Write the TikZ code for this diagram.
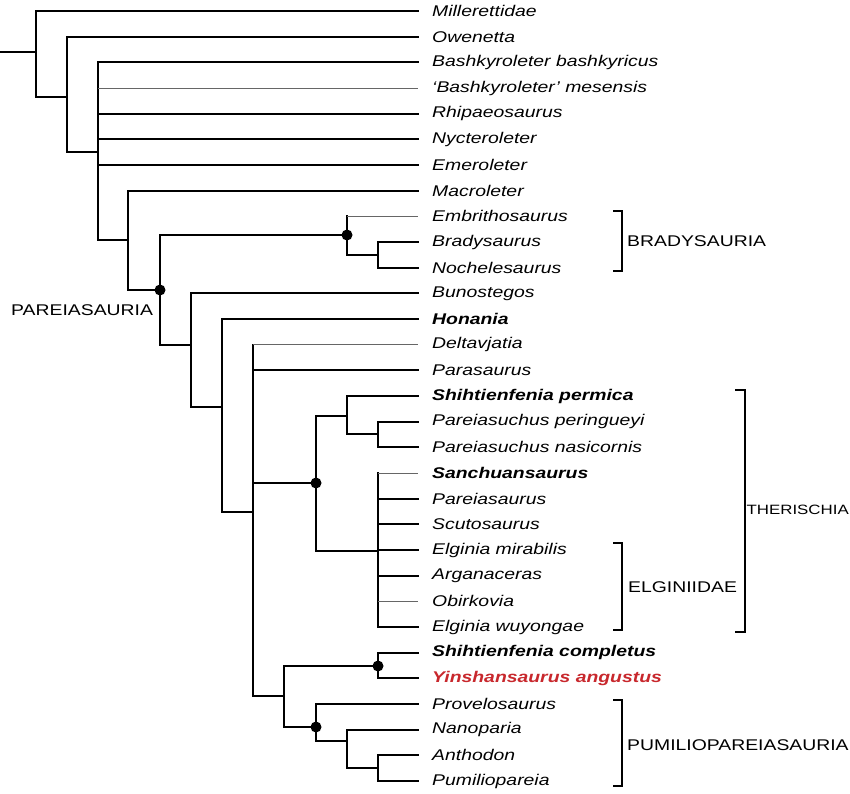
\documentclass[tikz,border=0pt]{standalone}
\usepackage{fontspec}
\setmainfont{Liberation Sans}[FakeStretch=1.25]
\tikzset{
  branch/.style={line width=2.1pt, line cap=rect},
  weak/.style={line width=0.9pt, draw=black!60},
  taxon/.style={anchor=west, inner sep=0pt, font=\fontsize{15.5}{17}\selectfont\itshape},
  focal/.style={taxon, font=\fontsize{15.5}{17}\selectfont\bfseries\itshape},
  clade/.style={anchor=west, inner sep=0pt, font=\fontsize{15.5}{17}\selectfont},
  dot/.style={circle, fill=black, inner sep=0pt, minimum size=11pt},
  brack/.style={line width=1.5pt}
}
\begin{document}
\begin{tikzpicture}[x=1pt, y=-1pt]
  \useasboundingbox (0,0) rectangle (850,793);
  \def\row#1{11+(#1-1)*25.67}

  % Taxon labels
  \foreach \name/\i/\st in {Millerettidae/1/taxon, Owenetta/2/taxon,
      Bashkyroleter bashkyricus/3/taxon, `Bashkyroleter' mesensis/4/taxon,
      Rhipaeosaurus/5/taxon, Nycteroleter/6/taxon, Emeroleter/7/taxon,
      Macroleter/8/taxon, Embrithosaurus/9/taxon, Bradysaurus/10/taxon,
      Nochelesaurus/11/taxon, Bunostegos/12/taxon, Honania/13/focal,
      Deltavjatia/14/taxon, Parasaurus/15/taxon,
      Shihtienfenia permica/16/focal, Pareiasuchus peringueyi/17/taxon,
      Pareiasuchus nasicornis/18/taxon, Sanchuansaurus/19/focal,
      Pareiasaurus/20/taxon, Scutosaurus/21/taxon,
      Elginia mirabilis/22/taxon, Arganaceras/23/taxon, Obirkovia/24/taxon,
      Elginia wuyongae/25/taxon, Shihtienfenia completus/26/focal,
      Provelosaurus/28/taxon, Nanoparia/29/taxon, Anthodon/30/taxon,
      Pumiliopareia/31/taxon}
    \node[\st] (t\i) at (432,{\row{\i}}) {\name};
  \node[focal, text={rgb,255:red,200;green,40;blue,45}] (t27) at (432,{\row{27}}) {Yinshansaurus angustus};

  % Tip ends
  \foreach \i in {1,...,31}
    \coordinate (e\i) at ([xshift=-14pt]t\i.west);

  % Internal nodes
  \coordinate (root) at (0,52);
  \coordinate (A) at (36,52);
  \coordinate (B) at (67,97);
  \coordinate (C) at (98,152);
  \coordinate (D) at (128,240);
  \coordinate (E) at (160,290);
  \coordinate (F) at (347,235);
  \coordinate (G) at (378,255);
  \coordinate (H) at (191,345);
  \coordinate (I) at (222,407);
  \coordinate (J) at (253,512);
  \coordinate (K) at (316,483);
  \coordinate (L) at (347,416);
  \coordinate (M) at (378,434);
  \coordinate (N) at (378,551);
  \coordinate (O) at (284,696);
  \coordinate (P) at (378,666);
  \coordinate (Q) at (316,727);
  \coordinate (R) at (347,741);
  \coordinate (S) at (378,768);

  % Branches
  \draw[branch] (root) -- (A);
  \draw[branch] (A) |- (e1);
  \draw[branch] (A) |- (B);
  \draw[branch] (B) |- (e2);
  \draw[branch] (B) |- (C);
  \draw[branch] (C) |- (e3);
  \draw[branch] (C) |- (D);
  \foreach \i in {5,6,7} \draw[branch] (C) |- (e\i);
  \draw[branch] (C|-e4) -- (C|-e5);
  \draw[weak] (C|-e4) -- (e4);
  \draw[branch] (D) |- (e8);
  \draw[branch] (D) |- (E);
  \draw[branch] (E) |- (F);
  \draw[branch] (E) |- (H);
  \draw[branch] (F) -- (F|-e9);
  \draw[weak] (F|-e9) -- (e9);
  \draw[branch] (F) |- (G);
  \draw[branch] (G) |- (e10);
  \draw[branch] (G) |- (e11);
  \draw[branch] (H) |- (e12);
  \draw[branch] (H) |- (I);
  \draw[branch] (I) |- (e13);
  \draw[branch] (I) |- (J);
  \draw[branch] (J) -- (J|-e14);
  \draw[weak] (J|-e14) -- (e14);
  \draw[branch] (J) |- (e15);
  \draw[branch] (J) |- (K);
  \draw[branch] (J) |- (O);
  \draw[branch] (K) |- (L);
  \draw[branch] (K) |- (N);
  \draw[branch] (L) |- (e16);
  \draw[branch] (L) |- (M);
  \draw[branch] (M) |- (e17);
  \draw[branch] (M) |- (e18);
  \draw[branch] (N) -- (N|-e19);
  \draw[weak] (N|-e19) -- (e19);
  \foreach \i in {20,21,22,23,25} \draw[branch] (N) |- (e\i);
  \draw[weak] (N|-e24) -- (e24);
  \draw[branch] (O) |- (P);
  \draw[branch] (O) |- (Q);
  \draw[branch] (P) |- (e26);
  \draw[branch] (P) |- (e27);
  \draw[branch] (Q) |- (e28);
  \draw[branch] (Q) |- (R);
  \draw[branch] (R) |- (e29);
  \draw[branch] (R) |- (S);
  \draw[branch] (S) |- (e30);
  \draw[branch] (S) |- (e31);

  % Node dots
  \foreach \n in {E,F,K,P,Q} \node[dot] at (\n) {};

  % Clade brackets
  \draw[brack] (613,211) -| (622,271) -- (613,271);
  \node[clade] (bra) at (627,241) {BRADYSAURIA};
  \draw[brack] (735,390) -| (745,632) -- (735,632);
  \node[clade, anchor=east, font=\fontsize{13.5}{15}\selectfont] (the) at (849,510) {THERISCHIA};
  \draw[brack] (613,543) -| (622,630) -- (613,630);
  \node[clade] (elg) at (628,587) {ELGINIIDAE};
  \draw[brack] (613,700) -| (622,786) -- (613,786);
  \node[clade] (pum) at (627,745) {PUMILIOPAREIASAURIA};
  \node[clade] (par) at (11,310) {PAREIASAURIA};
\end{tikzpicture}
\end{document}
